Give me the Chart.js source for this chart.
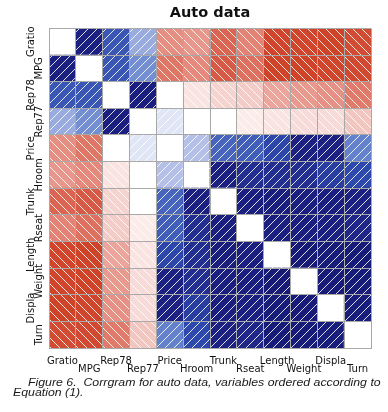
<!DOCTYPE html>
<html>
<head>
<meta charset="utf-8">
<script src="https://cdn.jsdelivr.net/npm/chart.js@4.4.0/dist/chart.umd.min.js"></script>
<style>
  html, body { margin: 0; padding: 0; background: #fff; }
  #wrap { position: relative; width: 388px; height: 412px; overflow: hidden; }
  #box  { position: absolute; left: 0; top: 0; width: 388px; height: 387px; }
  .cap  { position: absolute; font-family: "Liberation Sans", Arial, sans-serif; font-style: italic;
          font-size: 11px; color: #1a1a1a; white-space: pre; transform-origin: 0 0; transform: scaleX(1.12); }
</style>
</head>
<body>
<div id="wrap">
  <div id="box"><canvas id="c"></canvas></div>
  <div class="cap" style="left:28px; top:376px">Figure 6.  Corrgram for auto data, variables ordered according to</div>
  <div class="cap" style="left:13px; top:386px">Equation (1).</div>
</div>
<script>
// ─── DATOS ────────────────────────────────────────────────────────────────
const variables = ["Gratio","MPG","Rep78","Rep77","Price","Hroom","Trunk","Rseat","Length","Weight","Displa","Turn"];

const gratio = [ 1.00,  .62,  .42,  .20, -.38, -.35, -.55, -.42, -.75, -.76, -.80, -.70];
const mpg    = [  .62, 1.00,  .42,  .27, -.47, -.40, -.60, -.50, -.80, -.81, -.74, -.72];
const rep78  = [  .42,  .42, 1.00,  .70,  .00, -.10, -.16, -.18, -.30, -.34, -.37, -.45];
const rep77  = [  .20,  .27,  .70, 1.00,  .06,  .00,  .00, -.07, -.10, -.13, -.13, -.20];
const price  = [ -.38, -.47,  .00,  .06, 1.00,  .15,  .38,  .40,  .47,  .60,  .60,  .30];
const hroom  = [ -.35, -.40, -.10,  .00,  .15, 1.00,  .63,  .55,  .55,  .55,  .50,  .46];
const trunk  = [ -.55, -.60, -.16,  .00,  .38,  .63, 1.00,  .70,  .72,  .67,  .65,  .60];
const rseat  = [ -.42, -.50, -.18, -.07,  .40,  .55,  .70, 1.00,  .70,  .65,  .62,  .58];
const length = [ -.75, -.80, -.30, -.10,  .47,  .55,  .72,  .70, 1.00,  .95,  .84,  .86];
const weight = [ -.76, -.81, -.34, -.13,  .60,  .55,  .67,  .65,  .95, 1.00,  .90,  .86];
const displa = [ -.80, -.74, -.37, -.13,  .60,  .50,  .65,  .62,  .84,  .90, 1.00,  .78];
const turn   = [ -.70, -.72, -.45, -.20,  .30,  .46,  .60,  .58,  .86,  .86,  .78, 1.00];

const filas = [gratio, mpg, rep78, rep77, price, hroom, trunk, rseat, length, weight, displa, turn];

// etiquetas escalonadas en dos renglones, como en la figura
const xLabels = variables.map((v, i) => i % 2 === 0 ? [v, ""] : ["", v]);
const yLabels = variables.map((v, i) => i % 2 === 0 ? [v, ""] : ["", v]);

// ─── COLORES ──────────────────────────────────────────────────────────────
const azul = [[0, "#ffffff"], [.15, "#b4c0e8"], [.30, "#6482cc"], [.45, "#2f4cb0"], [.60, "#1c2182"], [1, "#161a74"]];
const rojo = [[0, "#ffffff"], [.15, "#f6d6d2"], [.30, "#eba59c"], [.45, "#e07b6c"], [.60, "#d65a45"], [.75, "#d0452b"], [1, "#cc3c22"]];

function hex2rgb(h) {
  return [1, 3, 5].map(k => parseInt(h.substr(k, 2), 16));
}

function rampa(stops, t) {
  for (let k = 1; k < stops.length; k++) {
    if (t <= stops[k][0]) {
      const [t0, c0] = stops[k - 1], [t1, c1] = stops[k];
      const f = (t - t0) / (t1 - t0);
      const a = hex2rgb(c0), b = hex2rgb(c1);
      return `rgb(${a.map((v, j) => Math.round(v + (b[j] - v) * f)).join(",")})`;
    }
  }
  return stops[stops.length - 1][1];
}

// rayado blanco: "/" para positivas, "\" para negativas
const cache = {};
function rayado(color, positivo) {
  const key = color + positivo;
  if (cache[key]) return cache[key];
  const s = 9;
  const cv = document.createElement("canvas");
  cv.width = s; cv.height = s;
  const g = cv.getContext("2d");
  g.fillStyle = color;
  g.fillRect(0, 0, s, s);
  g.strokeStyle = "rgba(255,255,255,0.85)";
  g.lineWidth = 1;
  g.beginPath();
  if (positivo) {
    g.moveTo(0, s);        g.lineTo(s, 0);
    g.moveTo(-s/2, s/2);   g.lineTo(s/2, -s/2);
    g.moveTo(s/2, 1.5*s);  g.lineTo(1.5*s, s/2);
  } else {
    g.moveTo(0, 0);        g.lineTo(s, s);
    g.moveTo(-s/2, s/2);   g.lineTo(s/2, 1.5*s);
    g.moveTo(s/2, -s/2);   g.lineTo(1.5*s, s/2);
  }
  g.stroke();
  cache[key] = g.createPattern(cv, "repeat");
  return cache[key];
}

function colorCelda(r, fila, col) {
  if (fila === col) return "#ffffff";
  return r >= 0 ? rayado(rampa(azul, r), true) : rayado(rampa(rojo, -r), false);
}

// una serie apilada por fila; la primera serie queda abajo
const datasets = filas.map((_, k) => {
  const fila = filas.length - 1 - k;
  return {
    label: variables[fila],
    data: filas[fila].map(() => 1),
    backgroundColor: filas[fila].map((r, col) => colorCelda(r, fila, col)),
    borderWidth: 0,
    barPercentage: 1,
    categoryPercentage: 1
  };
});

// ─── GRÁFICO ──────────────────────────────────────────────────────────────
const fuente = { family: "DejaVu Sans", size: 10, lineHeight: 0.85 };
const gris = "#a9a9a9";

new Chart(document.getElementById("c"), {
  type: "bar",
  data: { labels: xLabels, datasets },
  options: {
    responsive: true,
    maintainAspectRatio: false,
    animation: false,
    layout: { padding: { left: 19, right: 17, top: 0, bottom: 4 } },
    plugins: {
      legend: { display: false },
      tooltip: { enabled: false },
      title: {
        display: true,
        text: "Auto data",
        fullSize: false,
        color: "#111",
        font: { family: "DejaVu Sans", size: 14.5, weight: "bold" },
        padding: { top: 5, bottom: 6 }
      }
    },
    scales: {
      x: {
        stacked: true,
        grid: { color: gris, drawTicks: false, offset: true, z: 1 },
        border: { color: gris, z: 1 },
        ticks: { autoSkip: false, maxRotation: 0, minRotation: 0, padding: 9, color: "#111", font: fuente }
      },
      y: { stacked: true, display: false, min: 0, max: 12 },
      yl: {
        type: "category",
        labels: yLabels,
        position: "left",
        offset: true,
        afterFit: (s) => { s.width = 30; },
        grid: { color: gris, drawTicks: false, offset: true, z: 1 },
        border: { color: gris, z: 1 },
        ticks: { autoSkip: false, minRotation: 90, maxRotation: 90, crossAlign: "center", padding: -4, color: "#111", font: fuente }
      }
    }
  }
});
</script>
</body>
</html>
